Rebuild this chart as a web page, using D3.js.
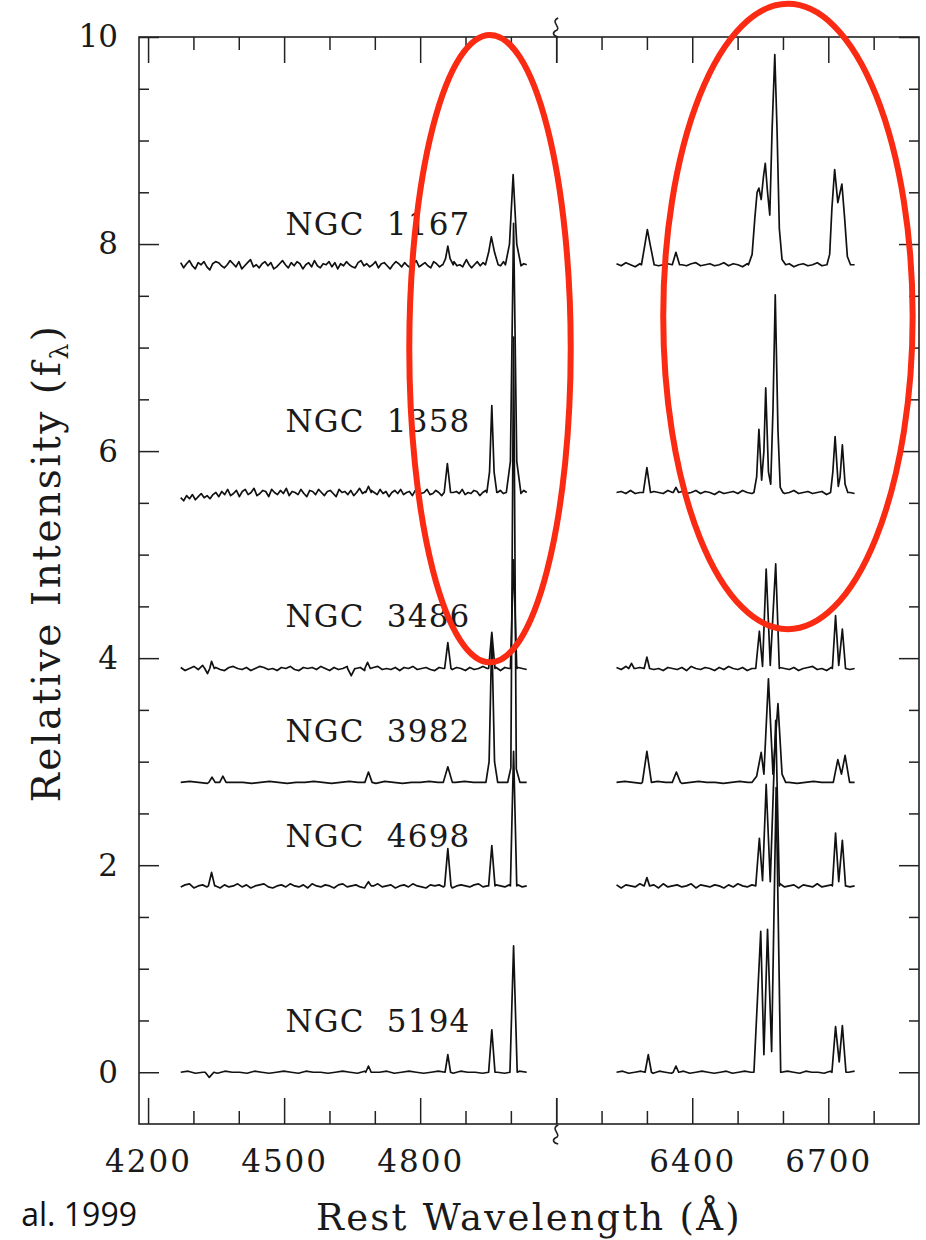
<!DOCTYPE html>
<html>
<head>
<meta charset="utf-8">
<script src="https://cdn.jsdelivr.net/npm/d3@7"></script>
<style>
  html, body { margin: 0; padding: 0; background: #fff; }
  svg { display: block; }
  .tick text { font-family: "DejaVu Serif", serif; fill: #1a1a1a; }
  .tick line { stroke: #222; stroke-width: 1.5; }
</style>
</head>
<body>
<svg id="chart" width="926" height="1240"></svg>
<script>
// Spectra of six Seyfert nuclei, blue (Hb/[OIII]) and red (Ha/[NII]/[SII]) segments
const galaxies = ['NGC 1167', 'NGC 1358', 'NGC 3486', 'NGC 3982', 'NGC 4698', 'NGC 5194'];
const offsets  = [7.8, 5.6, 3.9, 2.8, 1.8, 0];
const labelY   = [8.09, 6.18, 4.30, 3.19, 2.18, 0.39];
const labelLam = 4503;

const blueRange = [4272, 5035];
const redRange  = [6233, 6758];

// axis ticks (Angstrom / relative flux)
const xMajor  = [4200, 4500, 4800, 5100, 6100, 6400, 6700];
const xMinor  = [4300, 4400, 4600, 4700, 4900, 5000, 6200, 6300, 6500, 6600, 6800];
const xLabels = [4200, 4500, 4800, 6400, 6700];
const yMajor  = [0, 2, 4, 6, 8, 10];
const yMinor  = [0.5, 1, 1.5, 2.5, 3, 3.5, 4.5, 5, 5.5, 6.5, 7, 7.5, 8.5, 9, 9.5];

// continuum wiggles, hundredths of a unit, evenly spread over each segment
const blueNoise = [
  [2,-3,1,4,-1,-4,2,0,3,-2,-5,1,3,2,-1,-3,0,4,1,-2,3,-4,-1,2,5,-2,0,-3,1,3,-1,2,-4,-2,1,4,0,-3,2,-1,3,1,-4,0,2,-2,4,-1,-3,1,0,3,-2,2,-4,1,-1,3,0,-2,-3,2,4,-1,1,-2,0,3,-3,1,2,-1,-4,0,3,1,-2,2,-1,-3,1,4,-2,0,2,-1,-3,3,1,-2,0,2,-4,1,3,-1,0,-2,2,1,-3,0,3,-1,2,-2,1,-3,2,0,-1,3,-2,1,0,-2,2,-1,1,0],
  [-5,-8,-3,-6,-2,-7,-4,-1,-5,-3,-6,-2,0,-4,1,-2,3,-3,-1,2,-4,1,3,-2,0,4,-3,-1,2,1,-4,3,0,-2,2,-1,4,-3,1,0,-2,3,-1,-4,2,1,-2,3,0,-3,1,2,-1,-4,3,0,1,-2,2,-3,0,4,-1,1,-3,2,0,-2,3,-1,1,-4,0,2,-1,3,-2,0,1,-3,2,1,-1,0,3,-2,-1,2,0,-3,1,2,-2,0,1,-1,3,-2,0,-1,2,1,-3,0,2,-1,1,-2,0,2,-1,0,1,-2,1,0,-1,2,0],
  [1,-2,0,2,-1,3,-2,0,1,-1,-2,1,2,0,-1,1,-2,0,2,1,-1,0,-2,1,0,2,-1,-2,1,0,1,-1,2,0,-2,1,-1,0,2,-1,0,1,-2,0,1,2,-1,0,-1,1,-2,1,0,2,-1,0,1,-1,-2,1,0,2,-1,1,0,-2,1,-1,0,2,0,-1,1,-2,1,0,-1,1,0,-1],
  [0,1,0,-1,0,1,0,0,-1,0,1,0,-1,0,0,1,0,-1,0,1,0,0,-1,1,0,-1,0,0,1,0,-1,0,1,0,0,-1,0,1,0,0],
  [-1,1,2,-2,0,1,-1,2,0,-2,1,-1,0,2,-1,1,-2,0,1,2,-1,-2,0,1,-1,2,0,-1,1,-2,2,0,-1,1,0,-2,1,2,-1,0,1,-1,-2,1,0,2,-1,0,1,-2,0,1,-1,2,0,-1,-2,1,0,1,-1,2,-2,0,1,0,-1,1,2,-1,0,-2,1,0,-1,1,0,1,-1,0],
  [0,1,-1,0,1,-1,1,0,0,-1,1,0,-1,0,1,0,-1,1,0,0,-1,0,1,0,-1,1,0,0,1,-1,0,1,0,-1,0,1,0,-1,1,0,0,-1,1,0,-1,0,1,0]
];
const redNoise = [
  [1,-1,2,0,-2,1,0,-1,2,-1,0,1,-2,1,0,-1,1,2,-1,0,1,-1,0,2,-1,1,0,-2,1,0,-1,1,0,-1,2,0,-1,1,-2,0,1,-1,0,2,-1,0,1,-1,0,1,-2,0],
  [0,1,-1,2,-1,0,1,-2,1,0,-1,2,0,-1,1,-1,0,2,-1,1,0,-2,1,-1,0,1,-1,2,0,-1,1,0,-2,1,0,1,-1,0,2,-1,0,1,-1,0,1,-2,1,0,-1,1,0,-1],
  [1,-1,2,-2,0,1,-1,2,-1,0,-2,1,0,-1,1,-2,2,0,-1,1,0,-2,1,-1,2,0,-1,1,-2,0,1,-1,0,2,-2,1,0,-1,1,-2,0,1,2,-1,0,-2,1,0,-1,1,-1,0],
  [0,1,0,-1,0,1,0,0,-1,0,1,0,0,-1,0,1,0,-1,0,0,1,0,-1,0,1,0,0,-1,1,0],
  [1,-2,1,0,-1,2,-1,0,1,-2,2,-1,0,1,-1,0,2,-2,1,0,-1,1,0,-2,1,-1,2,0,-1,1,0,-2,1,-1,0,2,-1,0,1,-2,1,0,-1,2,-1,0,1,-1,0,2,-1,0],
  [0,1,-1,0,1,0,-1,1,0,-1,0,1,-1,0,1,0,-1,0,1,-1,0,1,0,-1,1,0,-1,0,1,0,-1,1,0,0,-1,1,0,-1,0,1]
];

// emission features: [wavelength, height above continuum]
const blueLines = [
  [ [[4850,0],[4856,0.06],[4861,0.18],[4866,0.06],[4873,0]],
    [[4896,0],[4902,0.05],[4908,0]],
    [[4944,0],[4951,0.12],[4957,0.27],[4964,0.12],[4972,0]],
    [[4988,0],[4997,0.2],[5005,0.87],[5013,0.2],[5022,0]] ],
  [ [[4680,0],[4686,0.06],[4692,0]],
    [[4853,0],[4860,0.28],[4867,0]],
    [[4947,0],[4953,0.2],[4958,0.84],[4963,0.2],[4969,0]],
    [[4990,0],[4999,0.3],[5006,2.6],[5013,0.3],[5022,0]] ],
  [ [[4325,0],[4331,-0.05],[4336,0],[4340,0.07],[4346,0]],
    [[4640,0],[4648,-0.07],[4656,0]],
    [[4678,0],[4684,0.06],[4690,0]],
    [[4854,0],[4861,0.25],[4868,0]],
    [[4951,0],[4958,0.35],[4965,0]],
    [[4999,0],[5006,1.05],[5013,0]] ],
  [ [[4334,0],[4341,0.05],[4348,0]],
    [[4358,0],[4365,0.06],[4372,0]],
    [[4678,0],[4686,0.1],[4694,0]],
    [[4851,0],[4861,0.15],[4871,0]],
    [[4945,0],[4952,0.2],[4958,1.42],[4964,0.2],[4971,0]],
    [[4993,0],[5000,0.14],[5006,4.3],[5012,0.13],[5020,0]] ],
  [ [[4333,0],[4340,0.13],[4347,0]],
    [[4680,0],[4686,0.04],[4692,0]],
    [[4854,0],[4861,0.36],[4868,0]],
    [[4951,0],[4958,0.39],[4965,0]],
    [[4999,0],[5006,1.3],[5013,0]] ],
  [ [[4326,0],[4335,-0.05],[4345,0]],
    [[4680,0],[4686,0.06],[4692,0]],
    [[4855,0],[4861,0.17],[4867,0]],
    [[4951,0],[4958,0.41],[4965,0]],
    [[4998,0],[5006,1.22],[5014,0]] ]
];
const redLines = [
  [ [[6288,0],[6295,0.18],[6301,0.34],[6307,0.2],[6316,0]],
    [[6356,0],[6364,0.12],[6372,0]],
    [[6524,0],[6532,0.1],[6538,0.45],[6543,0.7],[6547,0.74],[6552,0.63],[6557,0.85],[6561,0.98],[6566,0.7],[6571,0.48],[6576,1.3],[6582,2.03],[6587,1.3],[6592,0.35],[6598,0.05],[6606,0]],
    [[6697,0],[6703,0.1],[6708,0.55],[6714,0.92],[6721,0.6],[6730,0.78],[6736,0.45],[6742,0.08],[6749,0]] ],
  [ [[6292,0],[6300,0.24],[6308,0]],
    [[6358,0],[6364,0.05],[6370,0]],
    [[6536,0],[6542,0.15],[6547,0.61],[6553,0.12],[6558,0.4],[6562,1.01],[6568,0.2],[6573,0.08],[6578,0.8],[6583,1.91],[6589,0.6],[6594,0.05],[6600,0]],
    [[6705,0],[6710,0.2],[6715,0.54],[6722,0.06],[6726,0.15],[6731,0.46],[6737,0.08],[6743,0]] ],
  [ [[6260,0],[6266,0.05],[6272,0]],
    [[6294,0],[6300,0.11],[6306,0]],
    [[6540,0],[6548,0.36],[6555,0.02],[6563,0.96],[6572,0.03],[6584,1.01],[6592,0]],
    [[6709,0],[6716,0.51],[6723,0.03],[6731,0.38],[6738,0]] ],
  [ [[6290,0],[6300,0.30],[6310,0]],
    [[6356,0],[6365,0.10],[6374,0]],
    [[6532,0],[6542,0.06],[6552,0.29],[6558,0.08],[6568,1.0],[6578,0.08],[6589,0.76],[6598,0.08],[6606,0]],
    [[6711,0],[6721,0.22],[6729,0.08],[6737,0.26],[6747,0]] ],
  [ [[6294,0],[6300,0.08],[6306,0]],
    [[6540,0],[6548,0.46],[6555,0.05],[6563,0.98],[6572,0.04],[6584,1.6],[6592,0]],
    [[6709,0],[6716,0.51],[6723,0.04],[6731,0.44],[6738,0]] ],
  [ [[6296,0],[6303,0.17],[6310,0]],
    [[6358,0],[6364,0.06],[6370,0]],
    [[6536,0],[6551,1.36],[6558,0.17],[6566,1.38],[6575,0.2],[6585,2.75],[6595,0]],
    [[6708,0],[6716,0.44],[6724,0.1],[6731,0.45],[6739,0]] ]
];

// annotation ellipses: [centre wavelength, centre flux, half-width (A), half-height (flux)]
const rings = [[4954, 6.99, 178, 3.03], [6611, 7.3, 275, 3.02]];

// ---------------------------------------------------------------
const svg = d3.select('#chart');
const L = 139, R = 919, T = 37, B = 1124;

const xs = d3.scaleLinear().domain([4180, 5900]).range([L, R]);
const gap = 1000; // 5100 -> 6100 is skipped
const shift = lam => (lam > 5600 ? lam - gap : lam);
const x = lam => xs(shift(lam));
const y = d3.scaleLinear().domain([-0.5, 10]).range([B, T]);

svg.append('rect').attr('width', 926).attr('height', 1240).attr('fill', '#fff');

function buildSpectrum(range, noise, feats) {
  const step = (range[1] - range[0]) / (noise.length - 1);
  let pts = noise.map((v, i) => [range[0] + i * step, v / 100]);
  feats.forEach(f => {
    const lo = f[0][0], hi = f[f.length - 1][0];
    pts = pts.filter(p => p[0] < lo || p[0] > hi).concat(f);
  });
  return pts.sort((a, b) => a[0] - b[0]);
}

const line = d3.line().curve(d3.curveLinear);

const spec = svg.append('g')
  .attr('fill', 'none')
  .attr('stroke', '#111')
  .attr('stroke-width', 1.7)
  .attr('stroke-linejoin', 'round');

galaxies.forEach((name, i) => {
  const off = offsets[i];
  [[blueRange, blueNoise[i], blueLines[i]], [redRange, redNoise[i], redLines[i]]].forEach(seg => {
    const pts = buildSpectrum(seg[0], seg[1], seg[2]);
    spec.append('path')
      .attr('d', line(pts.map(p => [x(p[0]), y(off + p[1])])));
  });
  svg.append('text')
    .attr('x', x(labelLam))
    .attr('y', y(labelY[i]))
    .attr('font-family', '"DejaVu Serif", serif')
    .attr('font-size', 31)
    .attr('letter-spacing', 1.2)
    .attr('fill', '#1a1a1a')
    .text(name.replace(' ', '\u00a0 '));
});

// frame
svg.append('rect')
  .attr('x', L).attr('y', T).attr('width', R - L).attr('height', B - T)
  .attr('fill', 'none').attr('stroke', '#222').attr('stroke-width', 1.6);

// x axes, bottom and top
function xAxis(gen, ticks, size, labels) {
  return gen(xs)
    .tickValues(ticks.map(shift))
    .tickSize(size)
    .tickPadding(26)
    .tickFormat(d => {
      const real = xLabels.find(v => shift(v) === d);
      return labels && real ? real : '';
    });
}
const gBot = svg.append('g').attr('transform', `translate(0,${B})`);
gBot.append('g').call(xAxis(d3.axisBottom, xMajor, -26, true));
gBot.append('g').call(xAxis(d3.axisBottom, xMinor, -13, false));
const gTop = svg.append('g').attr('transform', `translate(0,${T})`);
gTop.append('g').call(xAxis(d3.axisTop, xMajor, -26, false));
gTop.append('g').call(xAxis(d3.axisTop, xMinor, -13, false));
svg.selectAll('.domain').remove();
gBot.selectAll('text').attr('font-size', 31).attr('letter-spacing', 2);

// y axes, left and right
const gLeft = svg.append('g').attr('transform', `translate(${L},0)`);
gLeft.append('g').call(d3.axisLeft(y).tickValues(yMajor).tickSize(-20).tickPadding(21).tickFormat(d3.format('d')));
gLeft.append('g').call(d3.axisLeft(y).tickValues(yMinor).tickSize(-10).tickFormat(''));
const gRight = svg.append('g').attr('transform', `translate(${R},0)`);
gRight.append('g').call(d3.axisRight(y).tickValues(yMajor).tickSize(-20).tickFormat(''));
gRight.append('g').call(d3.axisRight(y).tickValues(yMinor).tickSize(-10).tickFormat(''));
svg.selectAll('.domain').remove();
gLeft.selectAll('text').attr('font-size', 31);

// axis-break squiggles at the skipped interval
const bx = xs(5100);
[T - 10, B + 10].forEach(cy => {
  svg.append('path')
    .attr('d', `M${bx + 2},${cy - 9} C${bx - 7},${cy - 5} ${bx + 7},${cy + 1} ${bx - 1},${cy + 4} C${bx - 4},${cy + 6} ${bx - 3},${cy + 9} ${bx + 2},${cy + 10}`)
    .attr('fill', 'none').attr('stroke', '#222').attr('stroke-width', 1.6);
});

// axis titles
svg.append('text')
  .attr('x', 529)
  .attr('y', 1230)
  .attr('text-anchor', 'middle')
  .attr('font-family', '"DejaVu Serif", serif')
  .attr('font-size', 37)
  .attr('letter-spacing', 2.3)
  .attr('fill', '#1a1a1a')
  .text('Rest Wavelength (Å)');

const yt = svg.append('text')
  .attr('transform', 'translate(60,563) rotate(-90)')
  .attr('text-anchor', 'middle')
  .attr('font-family', '"DejaVu Serif", serif')
  .attr('font-size', 39)
  .attr('letter-spacing', 2.5)
  .attr('fill', '#1a1a1a');
yt.append('tspan').text('Relative Intensity (f');
yt.append('tspan').attr('font-size', 25).attr('dy', 8).text('λ');
yt.append('tspan').attr('dy', -8).text(')');

// red ellipses
svg.append('g').selectAll('ellipse')
  .data(rings)
  .join('ellipse')
  .attr('cx', d => x(d[0]))
  .attr('cy', d => y(d[1]))
  .attr('rx', d => xs(4180 + d[2]) - xs(4180))
  .attr('ry', d => y(0) - y(d[3]))
  .attr('fill', 'none')
  .attr('stroke', '#fb2a12')
  .attr('stroke-width', 6);

// citation fragment from the slide
svg.append('text')
  .attr('x', 137).attr('y', 1226)
  .attr('text-anchor', 'end')
  .attr('font-family', '"Open Sans", sans-serif')
  .attr('font-size', 32)
  .attr('fill', '#111')
  .text('al. 1999');
</script>
</body>
</html>
